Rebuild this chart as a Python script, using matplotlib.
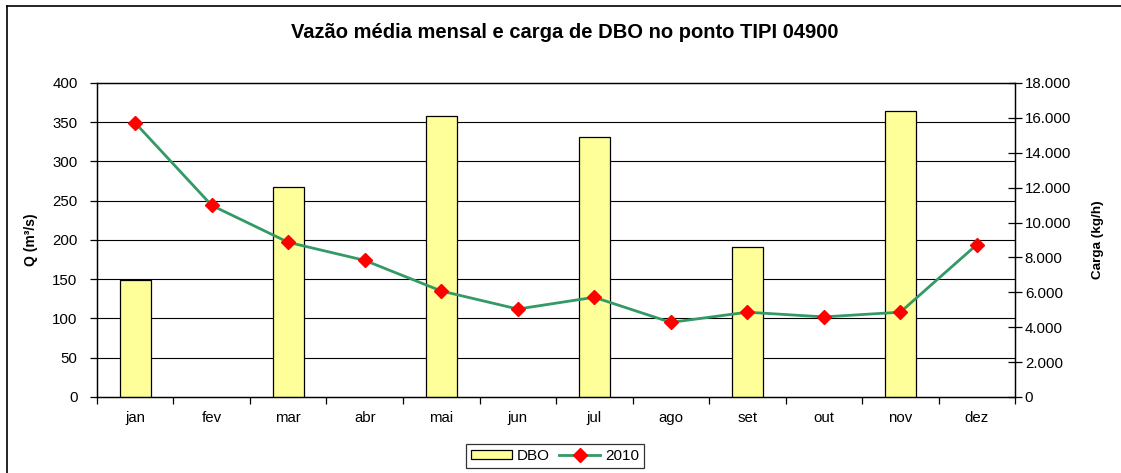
import matplotlib
matplotlib.use("Agg")
import matplotlib.pyplot as plt
from matplotlib.lines import Line2D
from matplotlib.patches import Patch
from matplotlib.ticker import FuncFormatter, FixedLocator

plt.rcParams['font.family'] = ['Liberation Sans', 'DejaVu Sans']

# dados
meses = ['jan', 'fev', 'mar', 'abr', 'mai', 'jun', 'jul', 'ago', 'set', 'out', 'nov', 'dez']
vazao_2010 = [349, 244, 197, 174, 135, 112, 127, 95, 108, 102, 108, 194]  # Q (m3/s)
carga_dbo = [6700, None, 12050, None, 16100, None, 14900, None, 8620, None, 16400, None]  # kg/h

fig = plt.figure(figsize=(11.21, 4.73), dpi=100)
ax = fig.add_axes([0.0865, 0.1607, 0.819, 0.664])
ax2 = ax.twinx()

x = list(range(len(meses)))

# barras (eixo da direita)
bx = [i for i, v in zip(x, carga_dbo) if v is not None]
bv = [v for v in carga_dbo if v is not None]
ax2.bar(bx, bv, width=0.4, color='#FFFF99', edgecolor='black', linewidth=0.9, zorder=3)
ax2.set_ylim(0, 18000)
ax.set_ylim(0, 400)

# linhas de grade seguindo o eixo da esquerda
for t in [50, 100, 150, 200, 250, 300, 350]:
    ax2.axhline(t * 18000 / 400, color='black', linewidth=0.8, zorder=1)

# linha da vazao (eixo da esquerda), por cima das barras
ax.set_zorder(ax2.get_zorder() + 1)
ax.patch.set_visible(False)
ax.plot(x, vazao_2010, color='#339966', linewidth=2, marker='D', markersize=7,
        markerfacecolor='red', markeredgecolor='red', zorder=4)

ax.set_xlim(-0.5, 11.5)
ax.set_xticks(x)
ax.set_xticklabels(meses, fontsize=10.8)
ax.tick_params(axis='x', which='major', length=0, pad=10)
ax.xaxis.set_minor_locator(FixedLocator([i + 0.5 for i in range(-1, 12)]))
ax.tick_params(axis='x', which='minor', length=5, direction='out', width=0.9)

ax.set_yticks(range(0, 401, 50))
ax.tick_params(axis='y', labelsize=10.8, length=5, direction='out', width=0.9, pad=9)
ax2.set_yticks(range(0, 18001, 2000))
ax2.yaxis.set_major_formatter(FuncFormatter(lambda v, p: f"{int(v):,}".replace(',', '.')))
ax2.tick_params(axis='y', labelsize=10.8, length=10, direction='inout', width=0.9, pad=2)

for a in (ax, ax2):
    for s in a.spines.values():
        s.set_linewidth(0.9)

ax.set_ylabel('Q (m³/s)', fontsize=10, fontweight='bold', labelpad=10)
ax2.set_ylabel('Carga (kg/h)', fontsize=9.7, fontweight='bold', labelpad=15)

fig.text(0.504, 0.932, 'Vazão média mensal e carga de DBO no ponto TIPI 04900',
         ha='center', va='center', fontsize=14.5, fontweight='bold')

# moldura externa
fig.add_artist(Line2D([7 / 1121, 1.0], [1 - 6 / 473, 1 - 6 / 473], color='black', linewidth=1.2))
fig.add_artist(Line2D([7 / 1121, 7 / 1121], [0.0, 1 - 6 / 473], color='black', linewidth=1.2))

handles = [Patch(facecolor='#FFFF99', edgecolor='black', linewidth=0.9),
           Line2D([], [], color='#339966', linewidth=2, marker='D', markersize=7,
                  markerfacecolor='red', markeredgecolor='red')]
leg = fig.legend(handles, ['DBO', '2010'], loc='lower center', ncol=2,
                 bbox_to_anchor=(0.495, -0.006), fontsize=11, frameon=True, fancybox=False,
                 handlelength=2.7, handleheight=0.6, columnspacing=0.6, handletextpad=0.3,
                 borderpad=0.35)
leg.get_frame().set_edgecolor('black')
leg.get_frame().set_linewidth(0.9)

fig.savefig('out.png', dpi=100)
